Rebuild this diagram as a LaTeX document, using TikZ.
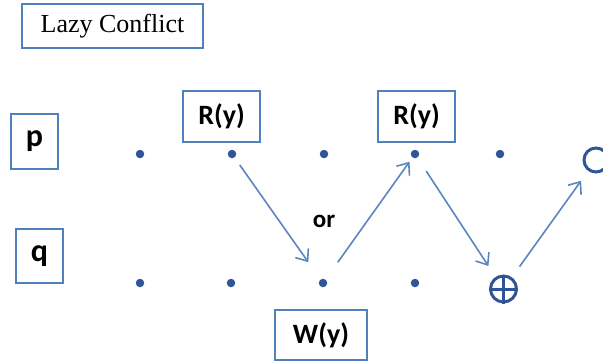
\documentclass[tikz,border=0pt]{standalone}
\usepackage{fontspec}
\setmainfont{Liberation Serif}
\newfontfamily\labelfont{Carlito}
\usetikzlibrary{arrows.meta}
\definecolor{boxblue}{HTML}{4F81BD}
\definecolor{dotblue}{HTML}{2F5597}
\definecolor{arrowblue}{HTML}{5A86C0}
\tikzset{
  labelbox/.style={draw=boxblue, line width=1.6pt, inner sep=0pt,
    font=\labelfont\bfseries\fontsize{28}{30}\selectfont},
  procbox/.style={labelbox, font=\labelfont\bfseries\fontsize{32}{34}\selectfont},
  pt/.style={circle, fill=dotblue, inner sep=0pt, minimum size=8.5pt},
  flow/.style={draw=arrowblue, line width=1.6pt,
    -{Straight Barb[length=10pt,width=16pt,line width=1.6pt]}},
  ringnode/.style={circle, draw=dotblue, line width=3pt, inner sep=0pt}
}
\begin{document}
\begin{tikzpicture}[x=1pt,y=-1pt]
\useasboundingbox (0,0) rectangle (603,362);
\clip (0,0) rectangle (603,362);

% heading
\node[draw=boxblue, line width=1.6pt, minimum width=181pt, minimum height=44pt,
  font=\fontsize{26}{28}\selectfont] (title) at (112.5,26) {Lazy Conflict};

% process names
\node[procbox, minimum width=47pt, minimum height=55pt] (p) at (34.5,141.5) {p};
\node[procbox, minimum width=47pt, minimum height=54pt] (q) at (39.5,256) {q};

% operation labels
\node[labelbox, minimum width=77pt, minimum height=51pt] (r1) at (221.5,116.5) {R(y)};
\node[labelbox, minimum width=77pt, minimum height=51pt] (r2) at (416.5,116.5) {R(y)};
\node[labelbox, minimum width=92pt, minimum height=50pt] (w) at (321,335) {W(y)};

% events of p
\node[pt] (p1) at (140,154) {};
\node[pt] (p2) at (232,154) {};
\node[pt] (p3) at (324,154) {};
\node[pt] (p4) at (415,154) {};
\node[pt] (p5) at (500,154) {};

% events of q
\node[pt] (q1) at (140,283) {};
\node[pt] (q2) at (231,283) {};
\node[pt] (q3) at (323,283) {};
\node[pt] (q4) at (415,283) {};

% conflict marker and end state
\node[ringnode, minimum size=26pt] (oplus) at (503.5,289) {};
\draw[dotblue, line width=3pt] (oplus.north) -- (oplus.south)
  (oplus.west) -- (oplus.east);
\node[ringnode, minimum size=24pt] (done) at (596,160) {};

\node[font=\labelfont\bfseries\fontsize{25}{27}\selectfont] (or) at (324,221) {or};

% message flow
\draw[flow, shorten <=9pt, shorten >=21pt] (p2) -- (q3);
\draw[flow, shorten <=21pt, shorten >=5pt] (q3) -- (p4);
\draw[flow, shorten <=16pt, shorten >=13pt] (p4) -- (oplus);
\draw[flow, shorten <=13pt, shorten >=12pt] (oplus) -- (done);
\end{tikzpicture}
\end{document}
